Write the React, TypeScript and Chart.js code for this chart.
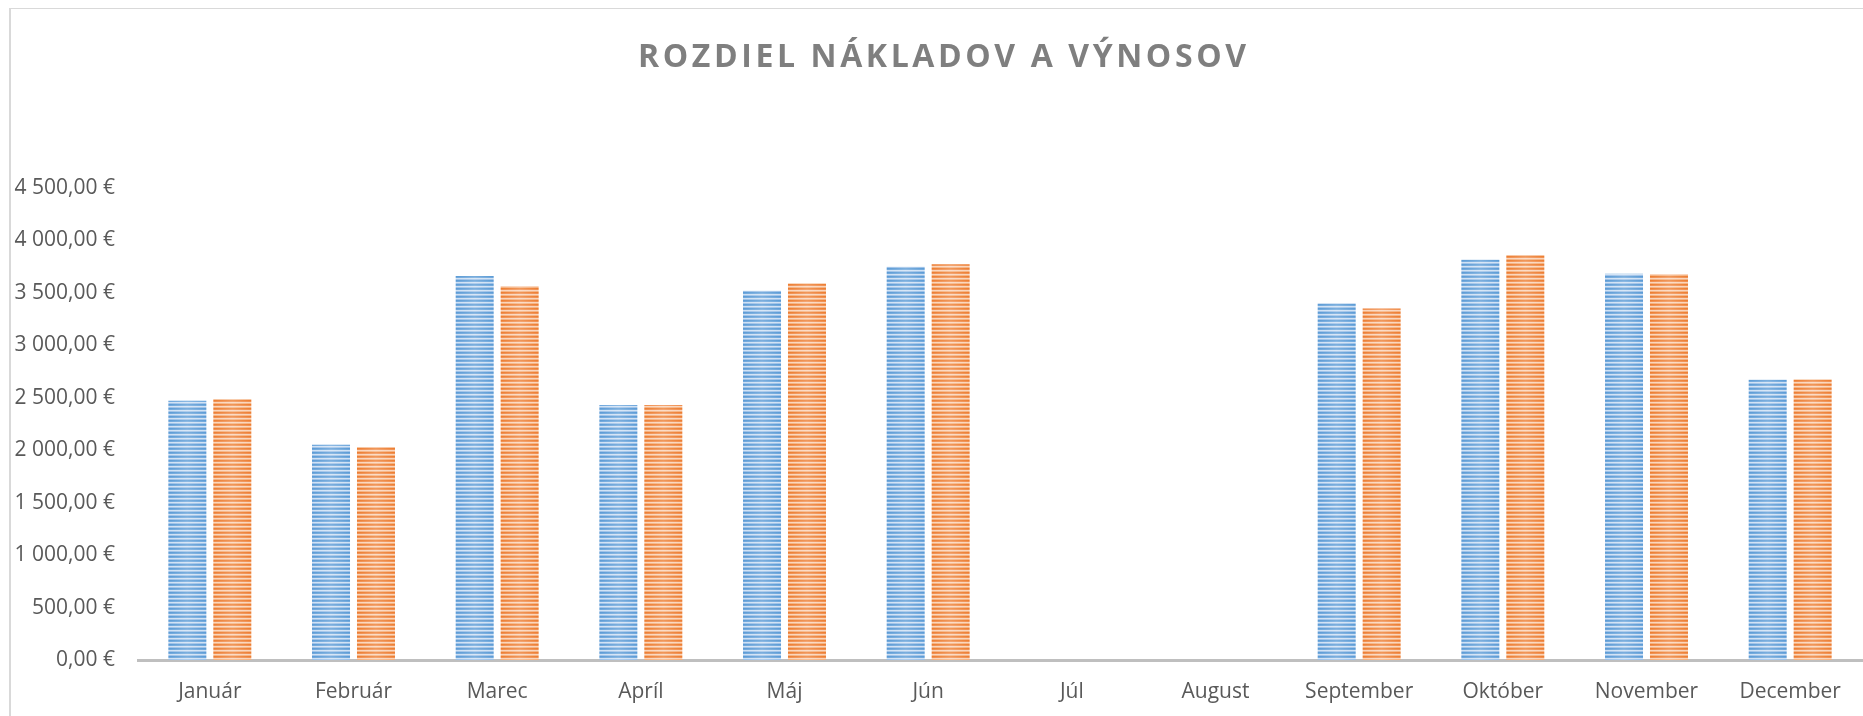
import React, { useEffect, useRef } from "react";
import { Chart, registerables } from "chart.js";

Chart.register(...registerables);

const chartTitle = "ROZDIEL NÁKLADOV A VÝNOSOV";
const months = [
  "Január", "Február", "Marec", "Apríl", "Máj", "Jún",
  "Júl", "August", "September", "Október", "November", "December",
];
const naklady: (number | null)[] = [2471, 2052, 3660, 2432, 3521, 3750, null, null, 3400, 3816, 3683, 2672];
const vynosy: (number | null)[] = [2487, 2029, 3565, 2432, 3590, 3773, null, null, 3352, 3858, 3680, 2675];
const yMin = 0;
const yMax = 4500;
const yStep = 500;

const blueStripes = ["#5b9bd5", "#6fa7dc", "#cfe1f4", "#9dc1e8"];
const orangeStripes = ["#ed7d31", "#f08f4f", "#fad4ba", "#f5b17f"];

function formatEuro(v: number): string {
  const n = Math.round(v).toString().replace(/\B(?=(\d{3})+(?!\d))/g, " ");
  return `${n},00 €`;
}

function stripePattern(colors: string[]): CanvasPattern | string {
  const c = document.createElement("canvas");
  c.width = 8;
  c.height = colors.length;
  const g = c.getContext("2d");
  if (!g) return colors[0];
  colors.forEach((col, i) => {
    g.fillStyle = col;
    g.fillRect(0, i, 8, 1);
  });
  return g.createPattern(c, "repeat") || colors[0];
}

const sheenPlugin = {
  id: "barSheen",
  afterDatasetsDraw(chart: any) {
    const ctx: CanvasRenderingContext2D = chart.ctx;
    ctx.save();
    chart.data.datasets.forEach((_ds: any, i: number) => {
      const meta = chart.getDatasetMeta(i);
      meta.data.forEach((el: any) => {
        const { x, y, base, width } = el.getProps(["x", "y", "base", "width"], true);
        if (!isFinite(y) || !isFinite(base) || Math.abs(base - y) < 1) return;
        const left = x - width / 2;
        const grad = ctx.createLinearGradient(left, 0, left + width, 0);
        grad.addColorStop(0, "rgba(255,255,255,0)");
        grad.addColorStop(0.5, "rgba(255,255,255,0.2)");
        grad.addColorStop(1, "rgba(255,255,255,0)");
        ctx.fillStyle = grad;
        ctx.fillRect(left, y, width, base - y);
      });
    });
    ctx.restore();
  },
};

const titlePlugin = {
  id: "spacedTitle",
  afterDraw(chart: any) {
    const ctx: any = chart.ctx;
    ctx.save();
    ctx.font = "bold 32px 'Open Sans'";
    ctx.fillStyle = "#7f7f7f";
    ctx.textAlign = "left";
    ctx.textBaseline = "alphabetic";
    ctx.letterSpacing = "0px";
    const w0 = ctx.measureText(chartTitle).width;
    const target = 608;
    const spacing = Math.max(0, (target - w0) / (chartTitle.length - 1));
    ctx.letterSpacing = `${spacing}px`;
    ctx.fillText(chartTitle, 638, 67);
    ctx.restore();
  },
};

export default function App() {
  const canvasRef = useRef<HTMLCanvasElement | null>(null);

  useEffect(() => {
    const canvas = canvasRef.current;
    if (!canvas) return;
    const tickFont = { family: "'Open Sans'", size: 21 };
    const chart = new Chart(canvas, {
      type: "bar",
      data: {
        labels: months,
        datasets: [
          {
            label: "Náklady",
            data: naklady,
            backgroundColor: stripePattern(blueStripes) as any,
            borderWidth: 0,
            categoryPercentage: 0.626,
            barPercentage: 0.845,
          },
          {
            label: "Výnosy",
            data: vynosy,
            backgroundColor: stripePattern(orangeStripes) as any,
            borderWidth: 0,
            categoryPercentage: 0.626,
            barPercentage: 0.845,
          },
        ],
      },
      options: {
        responsive: false,
        devicePixelRatio: 1,
        animation: false,
        layout: { padding: { top: 188, right: 1, left: 0, bottom: 0 } },
        plugins: {
          legend: { display: false },
          title: { display: false },
          tooltip: { enabled: false },
        },
        scales: {
          x: {
            grid: { display: false, drawTicks: false },
            border: { display: true, color: "#bfbfbf", width: 3 },
            ticks: {
              font: tickFont,
              color: "#595959",
              padding: 19,
              maxRotation: 0,
              autoSkip: false,
            },
            afterFit(scale: any) {
              scale.height = 56;
            },
          },
          y: {
            min: yMin,
            max: yMax,
            grid: { display: false, drawTicks: false },
            border: { display: false },
            ticks: {
              stepSize: yStep,
              font: tickFont,
              color: "#595959",
              padding: 23,
              callback: (v: any) => formatEuro(Number(v)),
            },
            afterFit(scale: any) {
              scale.width = 138;
            },
          },
        },
      },
      plugins: [sheenPlugin, titlePlugin],
    });
    return () => chart.destroy();
  }, []);

  return (
    <div
      style={{
        position: "fixed",
        left: 0,
        top: 0,
        width: 1863,
        height: 716,
        background: "#ffffff",
        overflow: "hidden",
      }}
    >
      <canvas
        ref={canvasRef}
        width={1863}
        height={716}
        style={{ display: "block", width: 1863, height: 716 }}
      />
      <div
        style={{
          position: "absolute",
          left: 9,
          top: 8,
          width: 1870,
          height: 720,
          borderLeft: "2px solid #d9d9d9",
          borderTop: "1px solid #d9d9d9",
          pointerEvents: "none",
        }}
      />
    </div>
  );
}
